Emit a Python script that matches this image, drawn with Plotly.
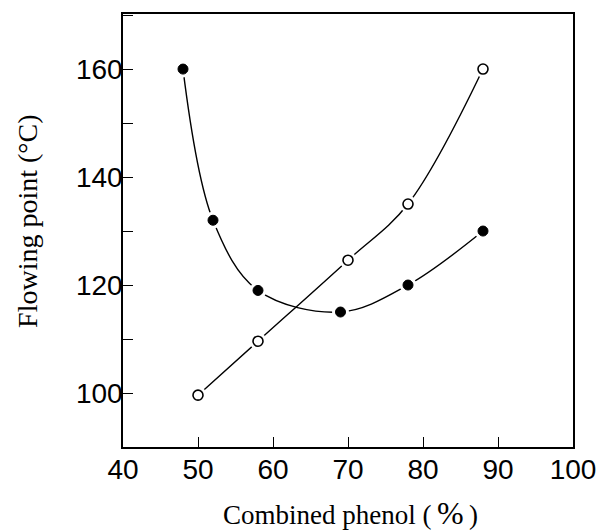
import plotly.graph_objects as go

# Data
filled_x = [48, 52, 58, 69, 78, 88]
filled_y = [160, 132, 119, 115, 120, 130]
open_x = [50, 58, 70, 78, 88]
open_y = [99.6, 109.6, 124.6, 135, 160]

x_ticks = [40, 50, 60, 70, 80, 90, 100]
y_ticks = [100, 120, 140, 160]

fig = go.Figure()

# smooth curves
for xs, ys in [(filled_x, filled_y), (open_x, open_y)]:
    fig.add_trace(go.Scatter(x=xs, y=ys, mode="lines",
                             line=dict(color="black", width=1.4, shape="spline", smoothing=1.0),
                             hoverinfo="skip", showlegend=False))

# white halos to create gaps around the markers
for xs, ys in [(filled_x, filled_y), (open_x, open_y)]:
    fig.add_trace(go.Scatter(x=xs, y=ys, mode="markers",
                             marker=dict(color="white", size=17, line=dict(width=0)),
                             hoverinfo="skip", showlegend=False))

fig.add_trace(go.Scatter(x=filled_x, y=filled_y, mode="markers",
                         marker=dict(color="black", size=10, line=dict(color="black", width=1)),
                         showlegend=False))
fig.add_trace(go.Scatter(x=open_x, y=open_y, mode="markers",
                         marker=dict(color="white", size=10, line=dict(color="black", width=1.6)),
                         showlegend=False))

serif = "Liberation Serif, Times New Roman, serif"
sans = "Liberation Sans, Arial, sans-serif"

fig.update_layout(
    width=603, height=531,
    margin=dict(l=123, r=30, t=14, b=84, autoexpand=False),
    plot_bgcolor="white", paper_bgcolor="white",
    showlegend=False,
    annotations=[
        dict(text="Combined phenol (\u2009<span style='font-size:32px'>%</span>\u2009)",
             xref="paper", yref="paper", x=0.505, y=-0.152,
             xanchor="center", yanchor="middle", showarrow=False,
             font=dict(family=serif, size=27, color="black")),
        dict(text="Flowing point (°C)", textangle=-90,
             xref="paper", yref="paper", x=-0.211, y=0.52,
             xanchor="center", yanchor="middle", showarrow=False,
             font=dict(family=serif, size=28, color="black")),
    ],
)
fig.update_xaxes(
    range=[40, 100], tickvals=x_ticks, ticks="inside", ticklen=10, tickwidth=1.4,
    tickcolor="black", showline=True, linecolor="black", linewidth=1.6, mirror=True,
    showgrid=False, zeroline=False, automargin=False, ticklabelstandoff=-3,
    tickfont=dict(family=sans, size=28, color="black"),
)
fig.update_yaxes(
    range=[90, 170.2], tickvals=y_ticks, ticks="inside", ticklen=10, tickwidth=1.4,
    tickcolor="black", showline=True, linecolor="black", linewidth=1.6, mirror=True,
    showgrid=False, zeroline=False, automargin=False, ticklabelstandoff=-7,
    minor=dict(dtick=10, tick0=100, ticks="inside", ticklen=10, tickwidth=1.4, tickcolor="black"),
    tickfont=dict(family=sans, size=28, color="black"),
)

fig.write_html("out.html")
